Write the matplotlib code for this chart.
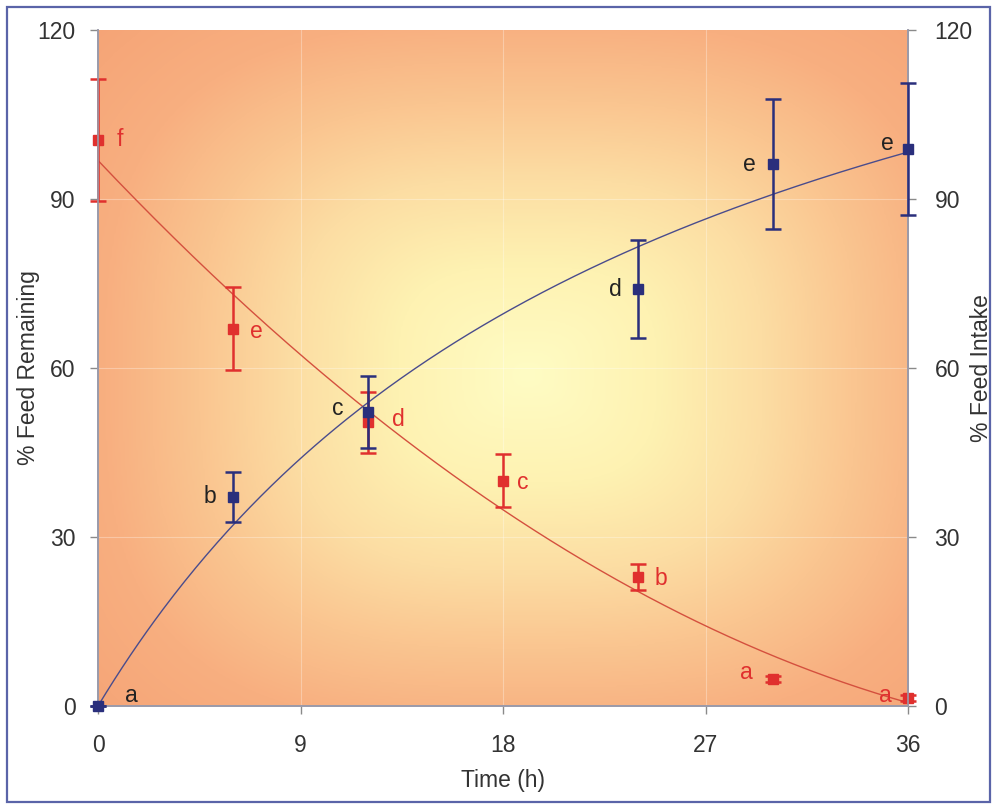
import matplotlib
matplotlib.use("Agg")
import matplotlib.pyplot as plt
import numpy as np
from matplotlib.colors import LinearSegmentedColormap
from matplotlib.patches import Rectangle

plt.rcParams["font.family"] = ["Liberation Sans", "DejaVu Sans"]

# ── Data ──────────────────────────────────────────────────────────────────────

TIME_REMAIN = [0, 6, 12, 18, 24, 30, 36]
REMAIN = [100.5, 67.0, 50.4, 40.0, 22.9, 4.8, 1.4]
REMAIN_SD = [10.8, 7.3, 5.4, 4.7, 2.3, 0.5, 0.5]
REMAIN_LETTERS = ["f", "e", "d", "c", "b", "a", "a"]

TIME_INTAKE = [0, 6, 12, 24, 30, 36]
INTAKE = [0.0, 37.1, 52.2, 74.0, 96.2, 98.9]
INTAKE_SD = [0.0, 4.4, 6.4, 8.7, 11.5, 11.7]
INTAKE_LETTERS = ["a", "b", "c", "d", "e", "e"]

X_TICKS = [0, 9, 18, 27, 36]
Y_TICKS = [0, 30, 60, 90, 120]

# label offsets in pixels (dx, dy)
REMAIN_OFFS = [(22, 0), (23, -3), (30, 3), (20, -2), (23, -2), (-27, 6), (-23, 3)]
INTAKE_OFFS = [(33, 11), (-23, 1), (-30, 3), (-23, 0), (-24, 0), (-21, 5)]

RED = "#E0302E"
RED_LINE = "#D4503E"
BLUE = "#2A2F7C"
BLUE_LINE = "#4A4C8C"
TXT = "#333333"
FS = 16.5

# ── Fitted curves ─────────────────────────────────────────────────────────────

t_fit = np.linspace(0, 36, 300)

# remaining: second order polynomial
red_coef = np.polyfit(TIME_REMAIN, REMAIN, 2)
red_fit = np.polyval(red_coef, t_fit)

# intake: saturating a*t/(b+t), least squares over b
ti = np.asarray(TIME_INTAKE, float)
yi = np.asarray(INTAKE, float)
best = None
for b in np.linspace(1, 150, 3000):
    f = ti / (b + ti)
    a = (yi * f).sum() / (f * f).sum()
    sse = ((yi - a * f) ** 2).sum()
    if best is None or sse < best[0]:
        best = (sse, a, b)
_, a_mm, b_mm = best
blue_fit = a_mm * t_fit / (b_mm + t_fit)

# ── Figure ────────────────────────────────────────────────────────────────────

fig = plt.figure(figsize=(9.96, 8.06), dpi=100)
ax = fig.add_axes([98 / 996, 1 - 706 / 806, 810 / 996, 676 / 806])
ax2 = ax.twinx()

# background gradient, light in the middle, orange towards the edges
gx = np.linspace(-1, 1, 400)
gy = np.linspace(-1, 1, 400)
X, Y = np.meshgrid(gx, gy)
d = (np.abs(X - 0.06) ** 3 + np.abs(Y + 0.02) ** 3) ** (1 / 3)
cmap = LinearSegmentedColormap.from_list(
    "bg",
    [(0.0, "#FFFCC4"), (0.22, "#FEF2B2"), (0.40, "#FCDDA3"),
     (0.56, "#FAC590"), (0.72, "#F8AF80"), (1.0, "#F49F72")],
)
ax.imshow(np.clip(d / 1.45, 0, 1), cmap=cmap, vmin=0, vmax=1, origin="lower",
          extent=(0, 36, 0, 120), aspect="auto", zorder=0, interpolation="bicubic")

for xv in X_TICKS[1:-1]:
    ax.axvline(xv, color="white", alpha=0.3, lw=0.8, zorder=0.5)
for yv in Y_TICKS[1:-1]:
    ax.axhline(yv, color="white", alpha=0.3, lw=0.8, zorder=0.5)

# feed remaining (left axis)
ax.plot(t_fit, red_fit, color=RED_LINE, lw=1.0, zorder=2)
ax.errorbar(TIME_REMAIN, REMAIN, yerr=REMAIN_SD, fmt="s", color=RED, ms=7,
            elinewidth=1.8, capsize=5.5, capthick=1.8, zorder=3, clip_on=False)
for t, v, s, (dx, dy) in zip(TIME_REMAIN, REMAIN, REMAIN_LETTERS, REMAIN_OFFS):
    ax.annotate(s, (t, v), xytext=(dx, dy), textcoords="offset pixels",
                ha="center", va="center", color=RED, fontsize=FS, zorder=4,
                annotation_clip=False)

# feed intake (right axis)
ax2.plot(t_fit, blue_fit, color=BLUE_LINE, lw=1.0, zorder=2)
ax2.errorbar(TIME_INTAKE, INTAKE, yerr=INTAKE_SD, fmt="s", color=BLUE, ms=7,
             elinewidth=1.8, capsize=5.5, capthick=1.8, zorder=3, clip_on=False)
for t, v, s, (dx, dy) in zip(TIME_INTAKE, INTAKE, INTAKE_LETTERS, INTAKE_OFFS):
    ax2.annotate(s, (t, v), xytext=(dx, dy), textcoords="offset pixels",
                 ha="center", va="center", color="#222222", fontsize=FS, zorder=4,
                 annotation_clip=False)

for a_ in (ax, ax2):
    a_.set_xlim(0, 36)
    a_.set_ylim(0, 120)
    a_.set_yticks(Y_TICKS)
    a_.patch.set_visible(False)
    for sp in a_.spines.values():
        sp.set_color("#9A9AAA")
        sp.set_linewidth(1.2)
    a_.spines["top"].set_visible(False)

ax.set_xticks(X_TICKS)
ax.tick_params(axis="both", direction="out", length=6, width=1, color="#8A8A8A",
               labelsize=FS, labelcolor=TXT)
ax.tick_params(axis="y", pad=10)
ax.tick_params(axis="x", pad=14)
ax2.tick_params(axis="y", direction="out", length=6, width=1, color="#8A8A8A",
                labelsize=FS, labelcolor=TXT, pad=13)

ax.set_xlabel("Time (h)", fontsize=FS, color=TXT)
ax.set_ylabel("% Feed Remaining", fontsize=FS, color=TXT)
ax2.set_ylabel("% Feed Intake", fontsize=FS, color=TXT, rotation=90)
ax.xaxis.set_label_coords((503 - 98) / 810, -(780 - 706) / 676)
ax.yaxis.set_label_coords((28 - 98) / 810, 0.5)
ax2.yaxis.set_label_coords((981 - 98) / 810, 0.5)
ax.xaxis.label.set_va("center")
ax.yaxis.label.set_va("center")
ax2.yaxis.label.set_va("center")

# outer frame
fig.patches.append(Rectangle((7 / 996, 4 / 806), 983 / 996, 795 / 806,
                             transform=fig.transFigure, fill=False,
                             ec="#5A64A8", lw=1.6))

fig.savefig("out.png", dpi=100)
